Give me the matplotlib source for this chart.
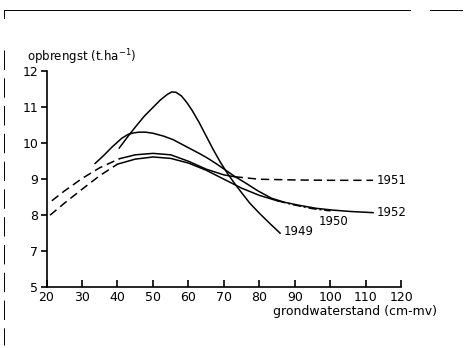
import matplotlib
matplotlib.use("Agg")
import matplotlib.pyplot as plt
from matplotlib.lines import Line2D

plt.rcParams['font.family'] = ['DejaVu Sans']
plt.rcParams['lines.scale_dashes'] = False

# groundwater depth (cm below surface) vs yield (t/ha)
x_1949 = [40.5, 43, 45, 47.5, 50, 52, 54, 55.3, 56.5, 58, 59.5, 61, 63, 65, 67, 69, 71,
          73, 75, 77.3, 80, 83, 85.8]
y_1949 = [9.87, 10.2, 10.45, 10.75, 11.0, 11.2, 11.36, 11.43, 11.42, 11.32, 11.14, 10.92,
          10.58, 10.2, 9.82, 9.47, 9.16, 8.88, 8.62, 8.33, 8.05, 7.76, 7.5]

x_1950_dash = [21, 25, 30, 35, 40]
y_1950_dash = [8.0, 8.33, 8.72, 9.1, 9.42]
x_1950 = [40, 45, 50, 55, 60, 65, 70, 75, 80, 85]
y_1950 = [9.42, 9.56, 9.62, 9.58, 9.45, 9.25, 9.0, 8.75, 8.55, 8.4]
x_1950_tail = [85, 90, 95, 100]
y_1950_tail = [8.4, 8.28, 8.18, 8.12]

x_1951_dash = [21.5, 25, 30, 35, 40.5]
y_1951_dash = [8.4, 8.67, 9.02, 9.32, 9.57]
x_1951 = [40.5, 45, 50, 55, 60, 65, 70, 73]
y_1951 = [9.57, 9.68, 9.72, 9.68, 9.5, 9.28, 9.12, 9.07]
x_1951_tail = [73, 80, 90, 100, 112]
y_1951_tail = [9.07, 9.0, 8.98, 8.97, 8.97]

x_1952 = [33.7, 36, 38.5, 41.2, 43, 44.5, 46, 48, 50, 53, 55.7, 58, 60.5, 63, 65.5,
          68, 70.5, 73, 76, 79.5, 83.4, 87, 91.4, 96, 100.7, 106, 112]
y_1952 = [9.44, 9.65, 9.9, 10.14, 10.25, 10.29, 10.31, 10.31, 10.28, 10.2, 10.1, 9.98,
          9.85, 9.72, 9.58, 9.42, 9.25, 9.08, 8.9, 8.68, 8.47, 8.36, 8.27, 8.19, 8.14,
          8.1, 8.07]

xticks = [20, 30, 40, 50, 60, 70, 80, 90, 100, 110, 120]
yticks = [6, 7, 8, 9, 10, 11, 12]
ytick_labels = ['5', '7', '8', '9', '10', '11', '12']

fig = plt.figure(figsize=(4.65, 3.48), dpi=100)
ax = fig.add_axes([0.1, 0.1753, 0.7634, 0.6193])

lw = 1.1
dash = (0, (6, 3.5))
ax.plot(x_1949, y_1949, color='black', lw=lw)
ax.plot(x_1950_dash, y_1950_dash, color='black', lw=lw, linestyle=dash)
ax.plot(x_1950, y_1950, color='black', lw=lw)
ax.plot(x_1950_tail, y_1950_tail, color='black', lw=lw, linestyle=(0, (6, 2, 1.5, 2)))
ax.plot(x_1951_dash, y_1951_dash, color='black', lw=lw, linestyle=dash)
ax.plot(x_1951, y_1951, color='black', lw=lw)
ax.plot(x_1951_tail, y_1951_tail, color='black', lw=lw, linestyle=dash)
ax.plot(x_1952, y_1952, color='black', lw=lw)

ax.text(113, 8.97, '1951', fontsize=8.5, va='center', ha='left')
ax.text(113, 8.07, '1952', fontsize=8.5, va='center', ha='left')
ax.text(96.8, 7.82, '1950', fontsize=8.5, va='center', ha='left')
ax.text(86.8, 7.54, '1949', fontsize=8.5, va='center', ha='left')

ax.set_xlim(20, 120)
ax.set_ylim(6, 12)
ax.set_xticks(xticks)
ax.set_yticks(yticks)
ax.set_yticklabels(ytick_labels)
ax.tick_params(axis='x', direction='in', length=5, width=1.2, pad=3, labelsize=9)
ax.tick_params(axis='y', direction='out', length=4, width=1.2, pad=2, labelsize=9)
for s in ['top', 'right']:
    ax.spines[s].set_visible(False)
for s in ['left', 'bottom']:
    ax.spines[s].set_linewidth(1.2)

fig.text(27 / 465, 1 - 57 / 348, 'opbrengst (t.ha$^{-1}$)', fontsize=8.5, va='center', ha='left')
fig.text(437 / 465, 1 - 312 / 348, 'grondwaterstand (cm-mv)', fontsize=9, va='center', ha='right')

# scan border
fig.add_artist(Line2D([4 / 465, 410 / 465], [1 - 10 / 348] * 2, color='black', lw=0.7))
fig.add_artist(Line2D([430 / 465, 462 / 465], [1 - 10 / 348] * 2, color='black', lw=0.7))
fig.add_artist(Line2D([4 / 465] * 2, [1 - 10 / 348, 1 - 18 / 348], color='black', lw=0.7))
fig.add_artist(Line2D([4 / 465] * 2, [1 - 50 / 348, 1 - 345 / 348], color='black', lw=0.7,
                      linestyle=(0, (14, 6))))

fig.savefig('out.png', dpi=100)
